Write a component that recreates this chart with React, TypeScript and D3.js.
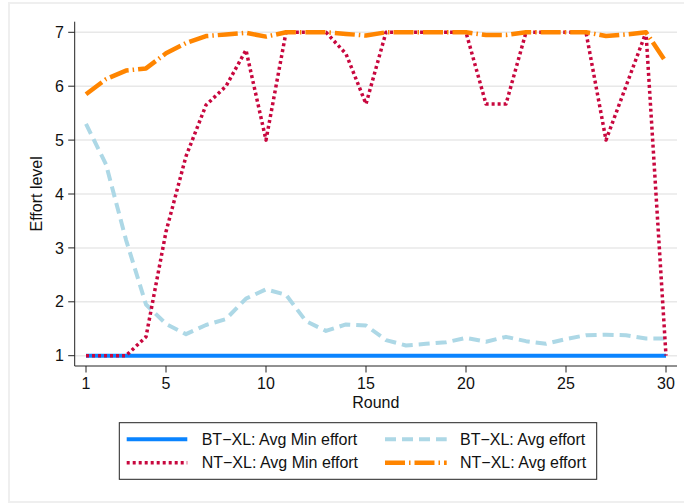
import React from "react";
import * as d3 from "d3";

const rounds = [1,2,3,4,5,6,7,8,9,10,11,12,13,14,15,16,17,18,19,20,21,22,23,24,25,26,27,28,29,30];
const btMin = [1,1,1,1,1,1,1,1,1,1,1,1,1,1,1,1,1,1,1,1,1,1,1,1,1,1,1,1,1,1];
const btAvg = [5.3,4.55,3.15,1.95,1.59,1.4,1.57,1.68,2.06,2.23,2.13,1.64,1.46,1.58,1.56,1.29,1.19,1.22,1.25,1.33,1.26,1.35,1.27,1.22,1.31,1.38,1.39,1.38,1.32,1.32];
const ntMin = [1,1,1,1.35,3.3,4.7,5.65,6.0,6.67,5.0,7,7,7,6.6,5.67,7,7,7,7,7,5.67,5.67,7,7,7,7,5.0,6.0,7,1.0];
const ntAvg = [5.85,6.13,6.29,6.33,6.61,6.8,6.93,6.96,6.99,6.92,7,7,7,6.97,6.94,7,7,7,7,7,6.95,6.95,7,7,7,7,6.93,6.96,7,6.45];

const xTicks = [1,5,10,15,20,25,30];
const yTicks = [1,2,3,4,5,6,7];

const seriesNames = ["BT\u2212XL: Avg Min effort","BT\u2212XL: Avg effort","NT\u2212XL: Avg Min effort","NT\u2212XL: Avg effort"];

const FONT = "'Liberation Sans', Arial, Helvetica, sans-serif";

export default function App() {
  const x = d3.scaleLinear().domain([1, 30]).range([86, 666]);
  const y = d3.scaleLinear().domain([1, 7]).range([355.7, 32.3]);
  const axisLeft = 74.7, axisRight = 677, axisTop = 21.7, axisBottom = 366;

  const mk = (vals: number[]) =>
    d3.line<number>().x((_, i) => x(rounds[i])).y((v) => y(v))(vals) || "";

  const styles = [
    { color: "#0a84ff", width: 4, dash: undefined as string | undefined },
    { color: "#add8e6", width: 4, dash: "11,6" },
    { color: "#c8073e", width: 3.5, dash: "3,3" },
    { color: "#ff8500", width: 4.5, dash: "20,4,1.5,4" },
  ];
  const data = [btMin, btAvg, ntMin, ntAvg];

  const legendRows = [439.3, 462.7];
  const legendCols = [{ s: 126.7, e: 187.3, t: 201.7 }, { s: 385, e: 446.7, t: 460 }];

  return (
    <svg width={684} height={504} style={{ position: "absolute", left: 0, top: 0, background: "#fff" }} fontFamily={FONT}>
      <rect x={9} y={3} width={700} height={499} fill="#fff" stroke="#efefef" strokeWidth={2} />
      {yTicks.map((t) => (
        <line key={"g" + t} x1={axisLeft} x2={axisRight} y1={y(t)} y2={y(t)} stroke="#e8e8e8" strokeWidth={1.5} />
      ))}
      {data.map((vals, i) => (
        <path key={"s" + i} d={mk(vals)} fill="none" stroke={styles[i].color} strokeWidth={styles[i].width}
          strokeDasharray={styles[i].dash} strokeLinejoin="round" strokeLinecap="butt" />
      ))}
      <line x1={axisLeft} x2={axisLeft} y1={axisTop} y2={axisBottom} stroke="#222" strokeWidth={1} />
      <line x1={axisLeft} x2={axisRight} y1={axisBottom} y2={axisBottom} stroke="#222" strokeWidth={1} />
      {yTicks.map((t) => (
        <g key={"yt" + t}>
          <line x1={axisLeft - 6.5} x2={axisLeft} y1={y(t)} y2={y(t)} stroke="#222" strokeWidth={1} />
          <text x={64} y={y(t)} dy="0.35em" textAnchor="end" fontSize={16} fill="#111">{t}</text>
        </g>
      ))}
      {xTicks.map((t) => (
        <g key={"xt" + t}>
          <line x1={x(t)} x2={x(t)} y1={axisBottom} y2={axisBottom + 6.5} stroke="#222" strokeWidth={1} />
          <text x={x(t)} y={389} textAnchor="middle" fontSize={16} fill="#111">{t}</text>
        </g>
      ))}
      <text x={(axisLeft + axisRight) / 2} y={407.5} textAnchor="middle" fontSize={16} fill="#111">Round</text>
      <text transform={`translate(42,${(axisTop + axisBottom) / 2}) rotate(-90)`} textAnchor="middle" fontSize={16} fill="#111">Effort level</text>
      <rect x={119.3} y={422.7} width={477.4} height={56.6} fill="#fff" stroke="#222" strokeWidth={1} />
      {seriesNames.map((name, i) => {
        const row = legendRows[Math.floor(i / 2)];
        const col = legendCols[i % 2];
        return (
          <g key={"l" + i}>
            <line x1={col.s} x2={col.e} y1={row} y2={row} stroke={styles[i].color} strokeWidth={styles[i].width}
              strokeDasharray={styles[i].dash} />
            <text x={col.t} y={row} dy="0.35em" fontSize={16} fill="#111">{name}</text>
          </g>
        );
      })}
    </svg>
  );
}
